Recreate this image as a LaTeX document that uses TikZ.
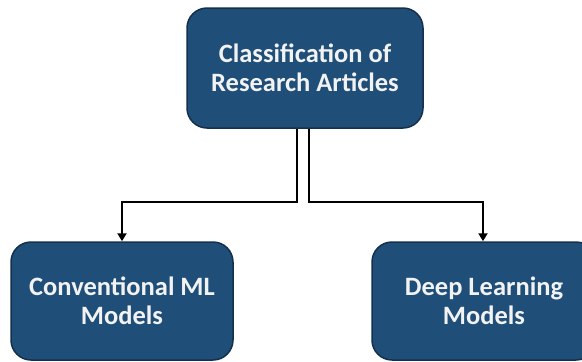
\documentclass[tikz,border=0pt]{standalone}
\usepackage{fontspec}
\setmainfont{Carlito}
\usetikzlibrary{arrows.meta}
\definecolor{boxfill}{HTML}{1F4E79}
\definecolor{boxedge}{HTML}{14304C}
\definecolor{boxtext}{HTML}{F2F2F2}
\tikzset{
  catbox/.style={draw=boxedge, line width=1.5pt, fill=boxfill, rounded corners=20pt,
    text=boxtext, font=\bfseries\fontsize{26.5}{29}\selectfont, align=center, inner sep=0pt},
  link/.style={draw=black, line width=2.6pt},
  linkarrow/.style={link, -{Triangle[width=9pt,length=8pt]}}
}
\begin{document}
\begin{tikzpicture}[x=1pt, y=-1pt]
  \path[use as bounding box] (0,0) rectangle (582,362);
  % category boxes
  \node[catbox, minimum width=236pt, minimum height=120pt] (root) at (305,68) {Classification of\\Research Articles};
  \node[catbox, minimum width=222pt, minimum height=118pt] (conv) at (122,301) {Conventional ML\\Models};
  \node[catbox, minimum width=224pt, minimum height=118pt] (deep) at (484,301) {Deep Learning\\Models};
  % split point below the root box and the two arrow targets
  \coordinate (lsrc) at ([xshift=-8pt]root.south);
  \coordinate (rsrc) at ([xshift=4pt]root.south);
  \coordinate (ltgt) at (conv.north);
  \coordinate (rtgt) at ([xshift=-1pt]deep.north);
  % connectors
  \draw[linkarrow] (lsrc) -- (lsrc |- 0,202) -| (ltgt);
  \draw[linkarrow] (rsrc) -- (rsrc |- 0,202) -| (rtgt);
\end{tikzpicture}
\end{document}
